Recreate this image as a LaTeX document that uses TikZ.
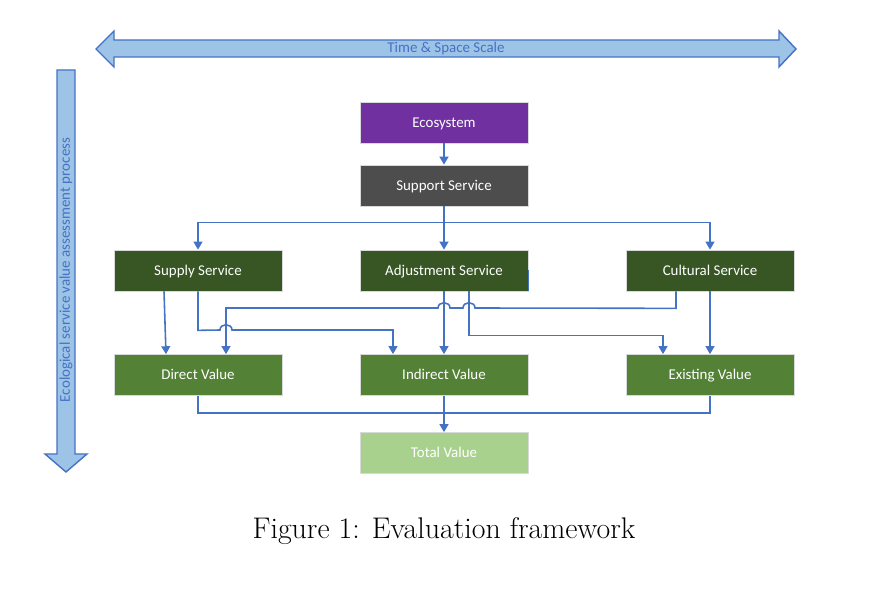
\documentclass[tikz,border=0pt]{standalone}
\usepackage{fontspec}
\setsansfont{Carlito}
\usetikzlibrary{arrows.meta,calc}
\definecolor{ecopurple}{HTML}{7030A0}
\definecolor{suppgrey}{HTML}{4D4D4D}
\definecolor{servgreen}{HTML}{375623}
\definecolor{valgreen}{HTML}{538135}
\definecolor{totgreen}{HTML}{A9D18E}
\definecolor{linkblue}{HTML}{4472C4}
\definecolor{scalefill}{HTML}{9DC3E6}
\tikzset{
  stage/.style={draw=white!85!black,line width=0.4pt,minimum width=3.36cm,minimum height=0.82cm,
    text=white,font=\sffamily\fontsize{8.5}{10}\selectfont,inner sep=0pt,text height=1.5ex,text depth=0.3ex},
  link/.style={linkblue,line width=0.9pt,-{Triangle[width=5pt,length=4.5pt]}},
  plainlink/.style={linkblue,line width=0.9pt},
  scalearrow/.style={draw=linkblue,fill=scalefill,line width=0.8pt,line join=miter},
  scaletext/.style={text=linkblue,font=\sffamily\fontsize{8.5}{10}\selectfont,inner sep=0pt}
}
\begin{document}
\begin{tikzpicture}[x=0.02cm,y=-0.02cm]
        \useasboundingbox (0,0) rectangle (894,611);
        %% scale arrows
        \draw[scalearrow] (96,49) -- (114,31) -- (114,40) -- (779,40) -- (779,31) -- (796,49)
            -- (779,67) -- (779,57) -- (114,57) -- (114,67) -- cycle;
        \node[scaletext] (tscale) at (446,48.5) {Time \& Space Scale};
        \draw[scalearrow] (57,70) -- (75,70) -- (75,454) -- (87,454) -- (66,472) -- (45,454)
            -- (57,454) -- cycle;
        \node[scaletext,rotate=90] (eproc) at (66,270) {Ecological service value assessment process};
        %% boxes
        \node[stage,fill=ecopurple] (eco) at (444,122.5) {Ecosystem};
        \node[stage,fill=suppgrey] (supp) at (444,185.5) {Support Service};
        \node[stage,fill=servgreen] (sply) at (198,270.5) {Supply Service};
        \node[stage,fill=servgreen] (adj) at (444,270.5) {Adjustment Service};
        \node[stage,fill=servgreen] (cult) at (710,270.5) {Cultural Service};
        \node[stage,fill=valgreen] (dirv) at (198,375) {Direct Value};
        \node[stage,fill=valgreen] (indv) at (444,375) {Indirect Value};
        \node[stage,fill=valgreen] (exsv) at (710,375) {Existing Value};
        \node[stage,fill=totgreen] (totv) at (444,453) {Total Value};
        %% top links
        \draw[link] (eco) -- (supp);
        \draw[link] (supp) -- (adj);
        \draw[link] (supp.south) -- ++(0,16) -| (sply.north);
        \draw[link] (supp.south) -- ++(0,16) -| (cult.north);
        %% services to values
        \draw[link] ($(sply.south)+(-34,0)$) -- ($(dirv.north)+(-32,0)$);
        \draw[link] (adj) -- (indv);
        \draw[link] (cult) -- (exsv);
        \draw[plainlink] (adj.east) -- (adj.south east);
        \draw[link] (sply.south) -- ++(0,39) -- (220,330) .. controls (220,323) and (232,323) .. (232,330)
            -| ($(indv.north)+(-51,0)$);
        \draw[link] ($(cult.south)+(-34,0)$) -- ++(0,17) -- (475,308) .. controls (475,301) and (463,301) .. (463,308)
            -- (450,308) .. controls (450,301) and (438,301) .. (438,308) -| ($(dirv.north)+(28,0)$);
        \draw[link] ($(adj.south)+(25,0)$) -- ++(0,44) -| ($(exsv.north)+(-47,0)$);
        %% values to total
        \draw[plainlink] (dirv.south) -- ++(0,17) -| (exsv.south);
        \draw[link] (indv) -- (totv);
        %% caption
        \node[font=\fontsize{17}{20}\selectfont] (capt) at (444,531) {Figure 1: Evaluation framework};
    \end{tikzpicture}
\end{document}
